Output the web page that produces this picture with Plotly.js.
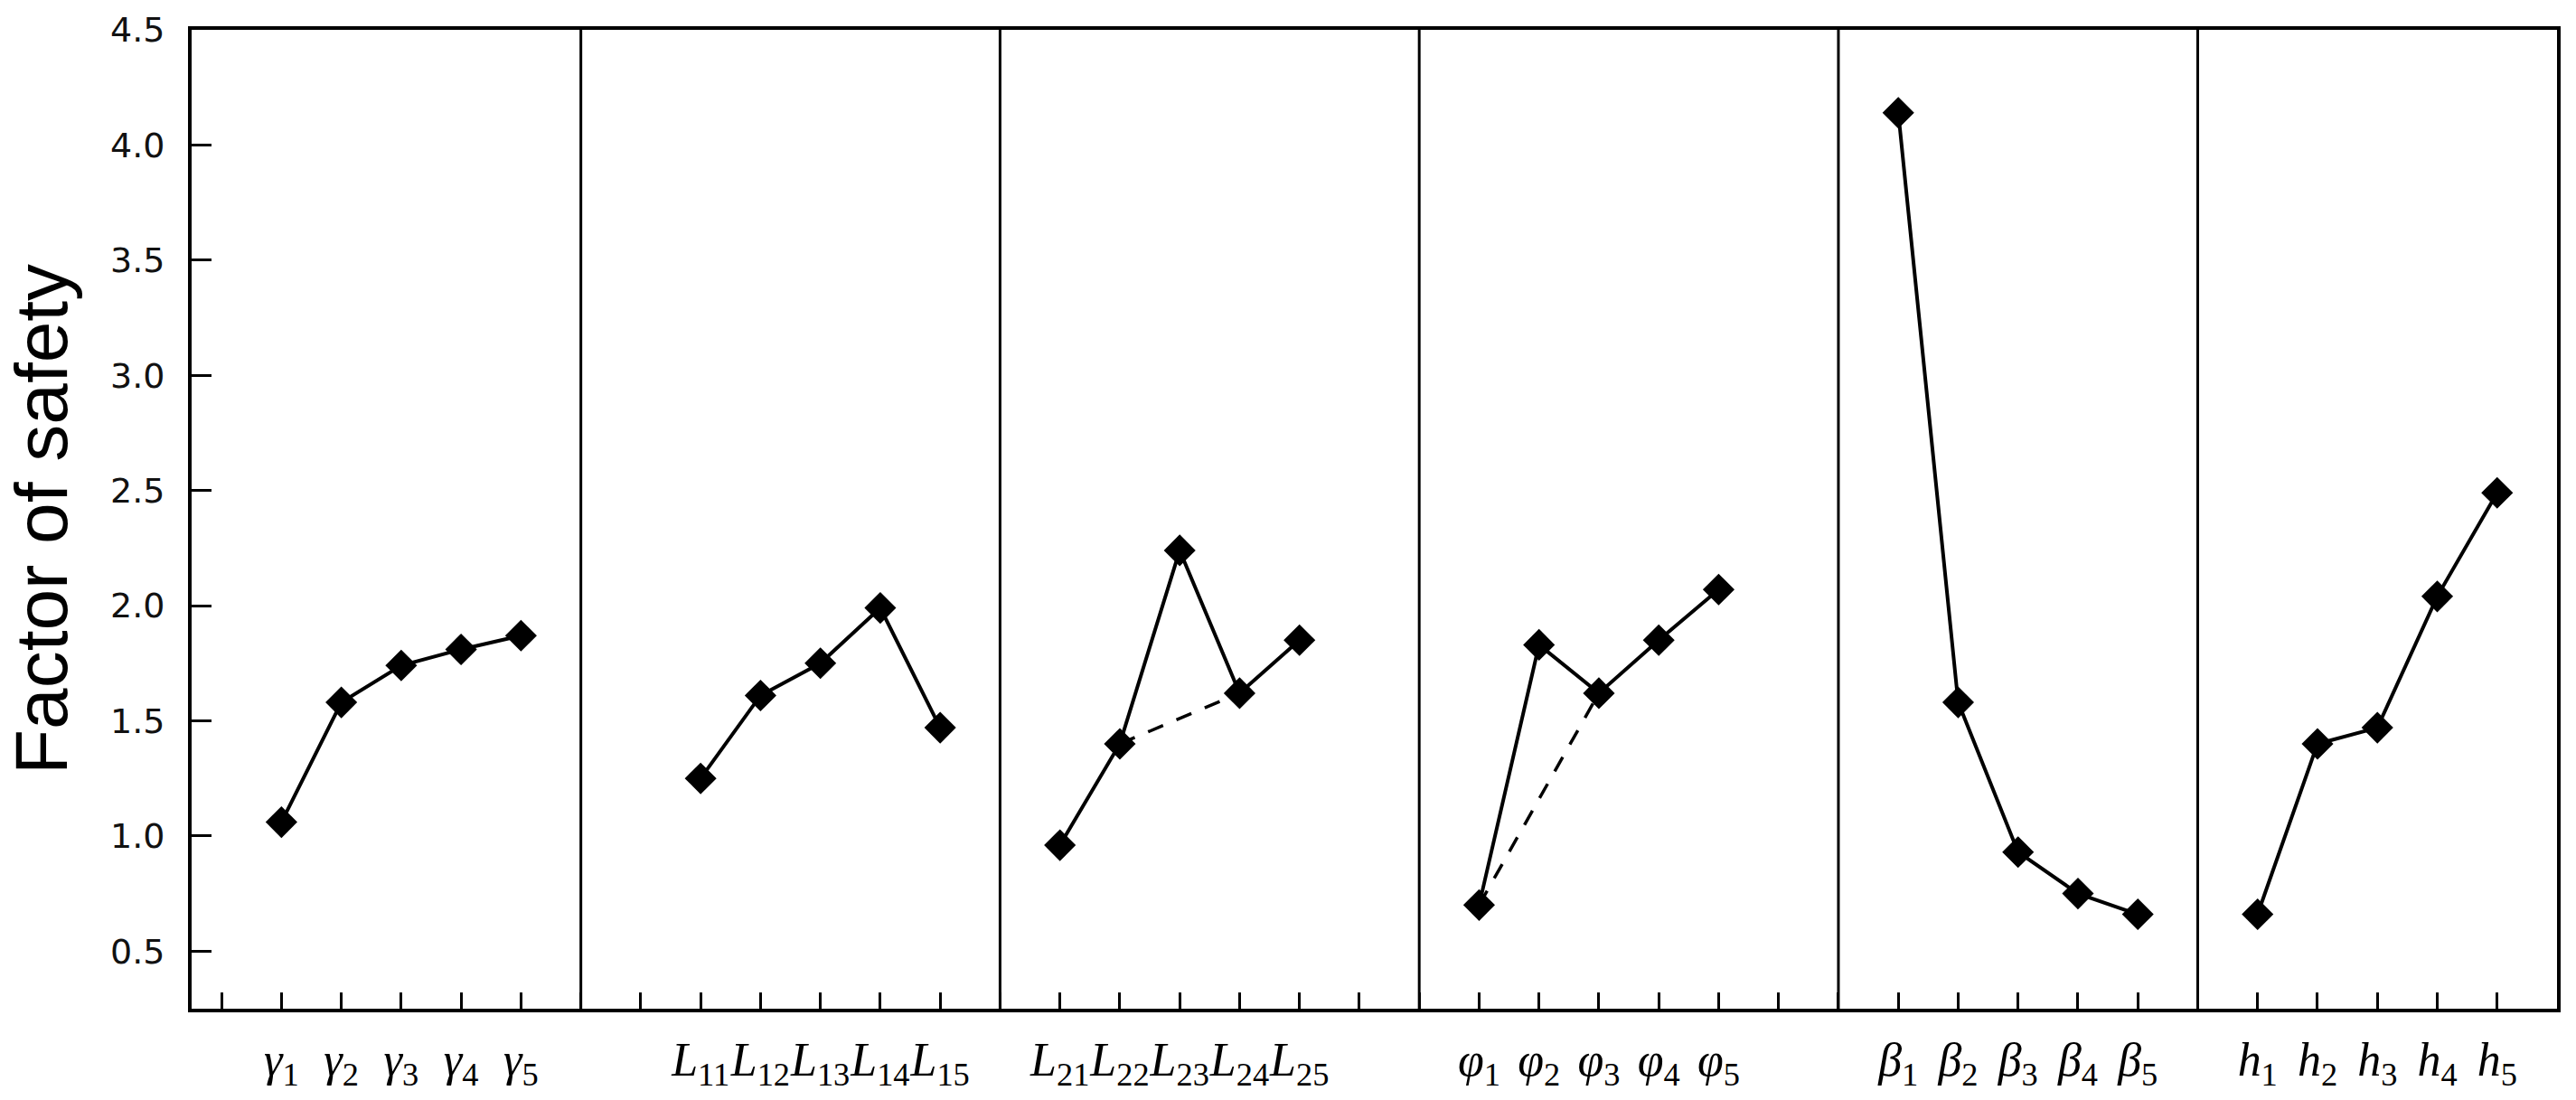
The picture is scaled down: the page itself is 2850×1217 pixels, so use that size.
<!DOCTYPE html>
<html>
<head>
<meta charset="utf-8">
<script src="https://cdn.plot.ly/plotly-3.0.1.min.js"></script>
<style>
  html, body { margin: 0; padding: 0; background: #fff; }
  #chart { width: 2850px; height: 1217px; }
</style>
</head>
<body>
<div id="chart"></div>
<script>
/* factor of safety vs. parameter levels */

// tick labels per factor group
const gammaTicks = ["<i>γ</i><sub>1</sub>", "<i>γ</i><sub>2</sub>", "<i>γ</i><sub>3</sub>", "<i>γ</i><sub>4</sub>", "<i>γ</i><sub>5</sub>"];
const l1Ticks = ["<i>L</i><sub>11</sub>", "<i>L</i><sub>12</sub>", "<i>L</i><sub>13</sub>", "<i>L</i><sub>14</sub>", "<i>L</i><sub>15</sub>"];
const l2Ticks = ["<i>L</i><sub>21</sub>", "<i>L</i><sub>22</sub>", "<i>L</i><sub>23</sub>", "<i>L</i><sub>24</sub>", "<i>L</i><sub>25</sub>"];
const phiTicks = ["<i>φ</i><sub>1</sub>", "<i>φ</i><sub>2</sub>", "<i>φ</i><sub>3</sub>", "<i>φ</i><sub>4</sub>", "<i>φ</i><sub>5</sub>"];
const betaTicks = ["<i>β</i><sub>1</sub>", "<i>β</i><sub>2</sub>", "<i>β</i><sub>3</sub>", "<i>β</i><sub>4</sub>", "<i>β</i><sub>5</sub>"];
const hTicks = ["<i>h</i><sub>1</sub>", "<i>h</i><sub>2</sub>", "<i>h</i><sub>3</sub>", "<i>h</i><sub>4</sub>", "<i>h</i><sub>5</sub>"];

// factor of safety for each level
const gammaFS = [1.06, 1.58, 1.74, 1.81, 1.87];
const l1FS = [1.25, 1.61, 1.75, 1.99, 1.47];
const l2FS = [0.96, 1.40, 2.24, 1.62, 1.85];
const phiFS = [0.70, 1.83, 1.62, 1.85, 2.07];
const betaFS = [4.14, 1.58, 0.93, 0.75, 0.66];
const hFS = [0.66, 1.40, 1.47, 2.04, 2.49];

// dashed bypass (level indices) in the L2 and phi groups
const l2Dashed = [1, 3];
const phiDashed = [0, 2];

// layout of the groups along the shared x axis
const groupStart = [1, 8, 14, 21, 28, 34];
const groupEdges = [6, 13, 20, 27, 33];
const xMax = 39;

const groups = [
  { ticks: gammaTicks, fs: gammaFS },
  { ticks: l1Ticks, fs: l1FS },
  { ticks: l2Ticks, fs: l2FS, dashed: l2Dashed },
  { ticks: phiTicks, fs: phiFS, dashed: phiDashed },
  { ticks: betaTicks, fs: betaFS },
  { ticks: hTicks, fs: hFS },
];

const traces = [];
const tickvals = [];
const ticktext = [];

groups.forEach((g, k) => {
  const xs = g.fs.map((_, i) => groupStart[k] + i);
  xs.forEach((x, i) => { tickvals.push(x); ticktext.push(g.ticks[i]); });
  if (g.dashed) {
    traces.push({
      x: g.dashed.map((i) => xs[i]),
      y: g.dashed.map((i) => g.fs[i]),
      type: "scatter",
      mode: "lines",
      line: { color: "#000", width: 3.5, dash: "18px,16px" },
      hoverinfo: "skip",
    });
  }
  traces.push({
    x: xs,
    y: g.fs,
    type: "scatter",
    mode: "lines+markers",
    line: { color: "#000", width: 4 },
    marker: { symbol: "diamond", size: 27, color: "#000" },
  });
});

const shapes = groupEdges.map((e) => ({
  type: "line", xref: "x", yref: "paper",
  x0: e, x1: e, y0: 0, y1: 1,
  line: { color: "#000", width: 3 },
}));

Plotly.newPlot("chart", traces, {
  width: 2850,
  height: 1217,
  margin: { l: 212, r: 21, t: 33, b: 101 },
  paper_bgcolor: "#fff",
  plot_bgcolor: "#fff",
  showlegend: false,
  shapes: shapes,
  xaxis: {
    range: [-0.5, xMax],
    tickmode: "array",
    tickvals: tickvals,
    ticktext: ticktext,
    tickangle: 0,
    ticks: "inside",
    ticklen: 18,
    tickwidth: 3,
    tickcolor: "#000",
    minor: { ticks: "inside", tick0: 0, dtick: 1, ticklen: 18, tickwidth: 3, tickcolor: "#000", showgrid: false },
    ticklabelstandoff: 8,
    tickfont: { family: "Liberation Serif, Times New Roman, serif", size: 52, color: "#000" },
    showline: true, linecolor: "#000", linewidth: 4, mirror: true,
    showgrid: false, zeroline: false,
  },
  yaxis: {
    range: [0.25, 4.5],
    tickmode: "linear", tick0: 0.5, dtick: 0.5,
    tickformat: ".1f",
    ticks: "inside",
    ticklen: 22,
    tickwidth: 3,
    tickcolor: "#000",
    ticklabelstandoff: 18,
    tickfont: { family: "DejaVu Sans, sans-serif", size: 38, color: "#111" },
    showline: true, linecolor: "#000", linewidth: 4, mirror: true,
    showgrid: false, zeroline: false,
    title: {
      text: "Factor of safety",
      standoff: 26,
      font: { family: "Liberation Sans, Arial, sans-serif", size: 82, color: "#000" },
    },
  },
}, { staticPlot: true });
</script>
</body>
</html>
